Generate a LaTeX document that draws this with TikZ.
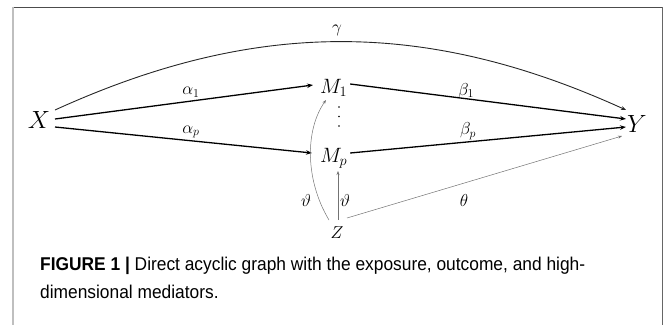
\documentclass[tikz,border=0pt]{standalone}
\usepackage{fontspec}
\usepackage{graphicx}
\newfontfamily\capfont{Liberation Sans}
\usetikzlibrary{arrows.meta}
\newsavebox\capone
\begin{document}
\sbox\capone{\capfont\fontsize{18.5}{22}\selectfont\textbf{FIGURE 1 |} Direct acyclic graph with the exposure, outcome, and high-}
\pgfmathsetmacro\capsx{545/\wd\capone}
\begin{tikzpicture}[x=1pt,y=-1pt,
  var/.style={inner sep=0pt,outer sep=0pt},
  lab/.style={inner sep=0pt,font=\fontsize{18}{18}\selectfont},
  small/.style={inner sep=0pt,font=\fontsize{17}{17}\selectfont},
  thk/.style={line width=1.3pt,-{Stealth[length=6pt,width=4.5pt]}},
  thn/.style={line width=0.5pt,draw=black!55,-{Stealth[length=4pt,width=3pt]}}]
\useasboundingbox (0,0) rectangle (665,325);
% frame
\draw[line width=1pt,black!70] (12,7) -- (662,7);
\draw[line width=1pt,black!60] (662,7) -- (662,325);
\draw[line width=2pt,black!25] (13,6.5) -- (13,325);
% nodes
\node[var,anchor=east,font=\fontsize{26}{26}\selectfont] (X) at (50,120) {$X$};
\node[var,anchor=west,font=\fontsize{26}{26}\selectfont] (Y) at (627,124) {$Y$};
\node[var,anchor=base west,font=\fontsize{22}{22}\selectfont] (M1) at (320,93) {$M_1$};
\node[var,anchor=base west,font=\fontsize{22}{22}\selectfont] (Mp) at (320,162) {$M_p$};
\node[var,font=\fontsize{19}{19}\selectfont] (Z) at (337,233) {$Z$};
% dots
\foreach \yy [count=\i] in {107,116.5,126}
  \fill (339,\yy) circle (0.8pt) coordinate (d\i);
% gamma curve
\draw[line width=0.9pt,black!85,-{Stealth[length=5pt,width=4pt]}]
  ([xshift=5pt,yshift=10pt]X.east) .. controls +(200,-91) and +(-200,-91) .. ([xshift=-1pt,yshift=14pt]Y.west);
% main arrows
\draw[thk] ([xshift=5pt,yshift=1pt]X.east) -- ([xshift=-7pt,yshift=8pt]M1.base west);
\draw[thk] ([xshift=5pt,yshift=-7pt]X.east) -- ([xshift=-8pt,yshift=9pt]Mp.base west);
\draw[thk] ([xshift=3pt,yshift=9pt]M1.base east) -- ([xshift=-1pt,yshift=5pt]Y.west);
\draw[thk] ([xshift=3pt,yshift=9pt]Mp.base east) -- ([xshift=-1pt,yshift=-3pt]Y.west);
% Z arrows
\draw[thn] ([xshift=-8pt,yshift=13pt]Z.center) .. controls +(-24,-40) and +(-21,30) .. ([xshift=6pt,yshift=-7pt]M1.base west);
\draw[thn] ([xshift=1pt,yshift=13pt]Z.center) -- ([xshift=18pt,yshift=-9pt]Mp.base west);
\draw[thn] ([xshift=10pt,yshift=15pt]Z.center) -- ([xshift=-5pt,yshift=-12pt]Y.west);
% labels
\node[lab] (g) at (337,30) {$\gamma$};
\node[lab] (a1) at (191,92) {$\alpha_1$};
\node[lab] (ap) at (191,132) {$\alpha_p$};
\node[lab] (b1) at (466,91) {$\beta_1$};
\node[lab] (bp) at (468,131) {$\beta_p$};
\node[small] (t1) at (306,200) {$\vartheta$};
\node[small] (t2) at (345,200) {$\vartheta$};
\node[small] (t3) at (464,200) {$\theta$};
% caption
\node[anchor=base west,inner sep=0pt] (c1) at (40,270) {\scalebox{\capsx}[1]{\usebox\capone}};
\node[anchor=base west,inner sep=0pt] (c2) at (40,298) {\scalebox{\capsx}[1]{\capfont\fontsize{18.5}{22}\selectfont dimensional mediators.}};
\end{tikzpicture}
\end{document}
